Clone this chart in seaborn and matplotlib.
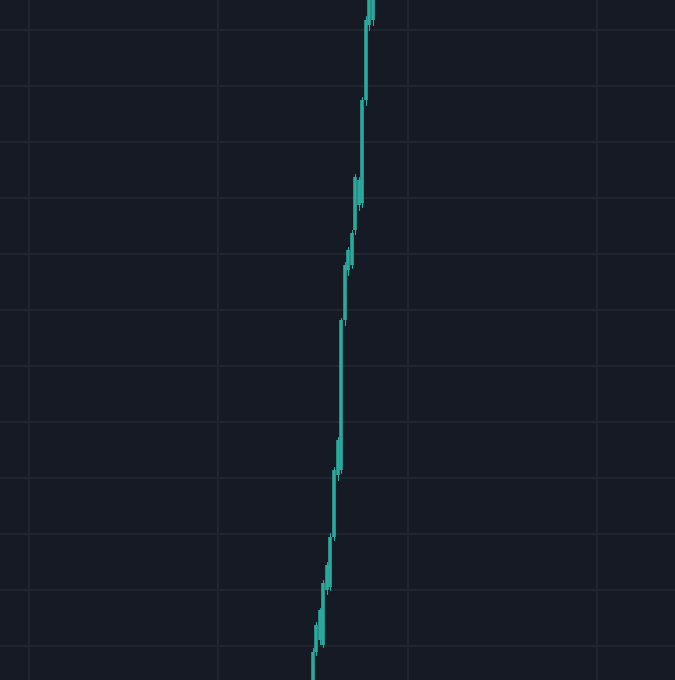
import seaborn as sns
import matplotlib.pyplot as plt
import numpy as np
import pandas as pd

# candle index, open, close (price units)
bars = list(range(18))
opens = [-20, 28, 40, 35, 90, 93, 143, 205, 210, 360, 410, 415, 450, 475, 477, 580, 655, 660]
closes = [28, 55, 70, 97, 115, 143, 210, 240, 360, 415, 430, 447, 503, 500, 580, 660, 680, 700]
highs = [32, 58, 72, 100, 118, 147, 213, 243, 362, 418, 433, 450, 506, 503, 583, 664, 684, 705]
lows = [-25, 25, 36, 33, 86, 90, 140, 200, 207, 355, 405, 412, 446, 470, 473, 575, 650, 655]

BG = '#161a25'
GRID = '#20242f'
UP = '#2aa99c'

rows = []
for i, o, c, h, l in zip(bars, opens, closes, highs, lows):
    rows.append({'t': i, 'price': o, 'candle': i, 'part': 'body'})
    rows.append({'t': i, 'price': c, 'candle': i, 'part': 'body'})
    rows.append({'t': i, 'price': l, 'candle': i, 'part': 'wick'})
    rows.append({'t': i, 'price': h, 'candle': i, 'part': 'wick'})
df = pd.DataFrame(rows)

sns.set_style('dark')
fig = plt.figure(figsize=(6.75, 6.8), dpi=100)
fig.patch.set_facecolor(BG)
ax = fig.add_axes([0, 0, 1, 1])
ax.set_facecolor(BG)

sns.lineplot(data=df[df.part == 'wick'], x='t', y='price', units='candle',
             estimator=None, color=UP, linewidth=0.8, ax=ax, legend=False)
sns.lineplot(data=df[df.part == 'body'], x='t', y='price', units='candle',
             estimator=None, color=UP, linewidth=2.6, ax=ax, legend=False,
             solid_capstyle='butt')

ax.set_xlim(-89.4, 103.4)
ax.set_ylim(0, 680)
ax.set_xticks(np.arange(-81, 90, 54))
ax.set_yticks(np.arange(650, 0, -56))
ax.grid(True, color=GRID, linewidth=1.6)
ax.tick_params(length=0, labelbottom=False, labelleft=False)
ax.set_xlabel('')
ax.set_ylabel('')
for s in ax.spines.values():
    s.set_visible(False)

fig.savefig('out.png', dpi=100, facecolor=BG)
